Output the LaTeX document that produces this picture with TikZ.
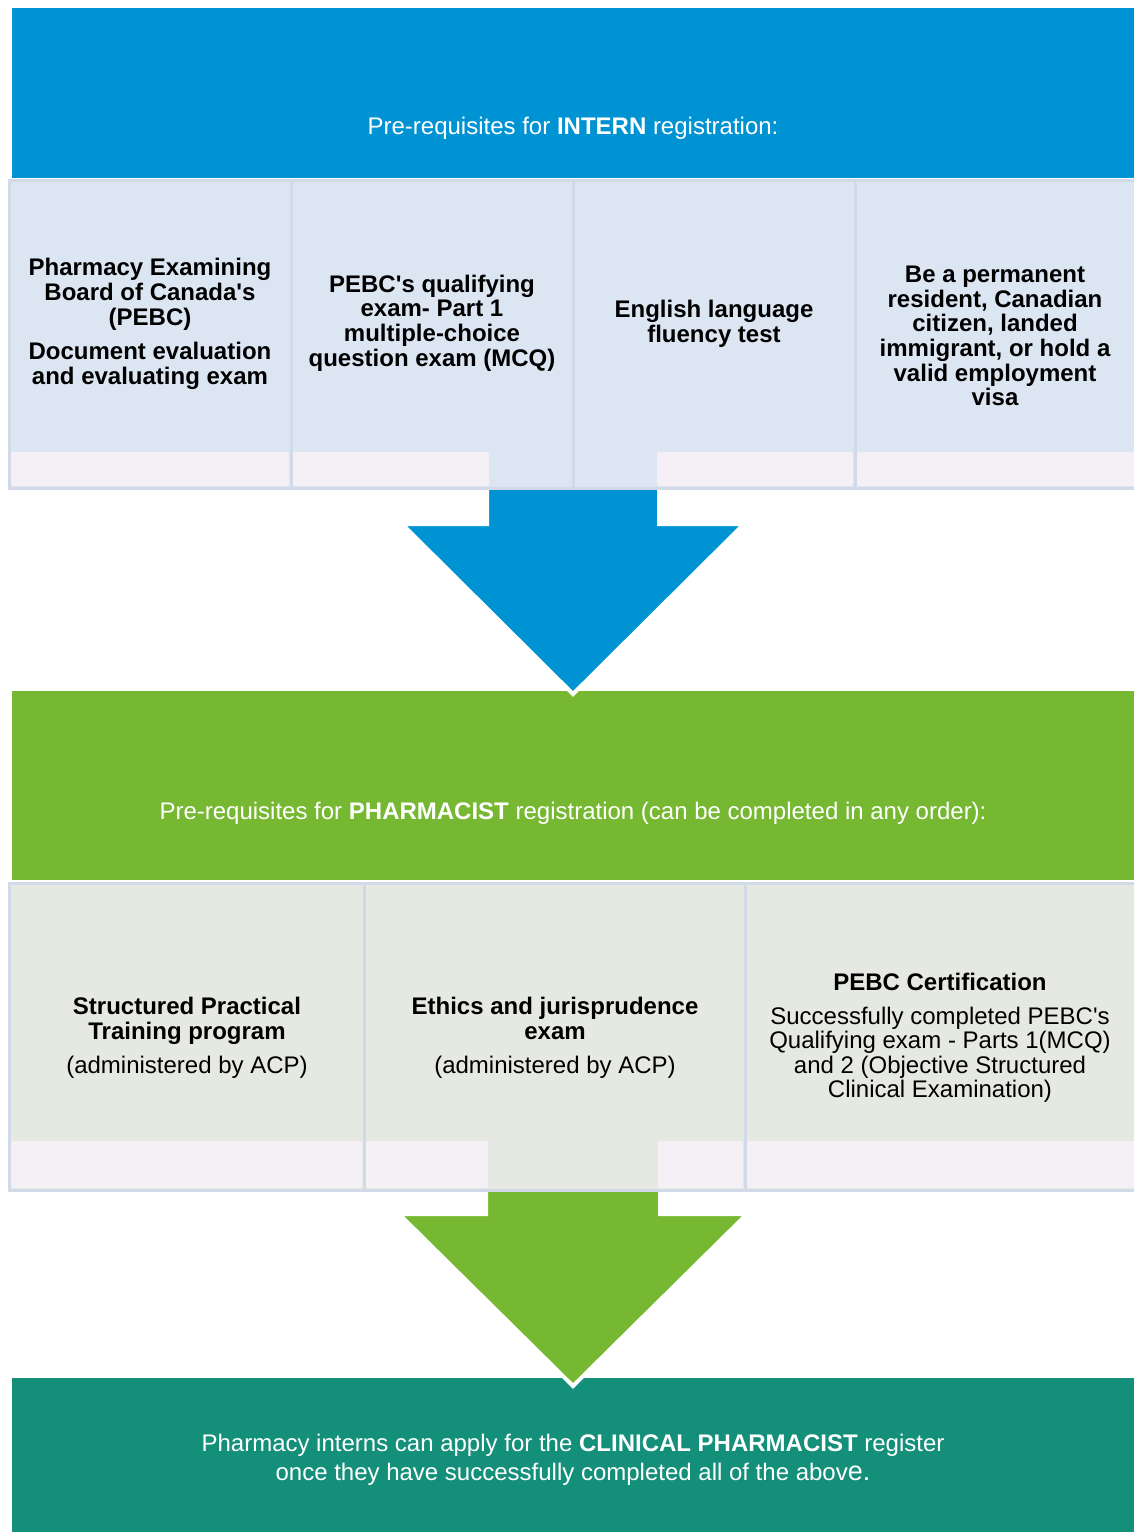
\documentclass[tikz,border=0pt]{standalone}
\usepackage{fontspec}
\setmainfont{Liberation Sans}
\definecolor{bluebar}{RGB}{0,147,211}
\definecolor{greenbar}{RGB}{118,184,49}
\definecolor{tealbar}{RGB}{19,143,122}
\definecolor{bluecell}{RGB}{220,230,242}
\definecolor{greycell}{RGB}{230,233,226}
\definecolor{cellline}{RGB}{210,218,234}
\definecolor{stripfill}{RGB}{244,240,246}
\begin{document}
\begin{tikzpicture}[x=1pt,y=-1pt,
  banner/.style={draw=none},
  blockarrow/.style={draw=white,line width=4pt,line join=miter},
  cellbox/.style={draw=cellline,line width=3pt},
  strip/.style={fill=stripfill,draw=none,rounded corners=2pt},
  celltext/.style={align=center,font=\fontsize{24}{24.6}\selectfont\bfseries,inner sep=0pt},
  bartext/.style={anchor=base,text=white,font=\fontsize{24}{29}\selectfont,inner sep=0pt}]
\useasboundingbox (0,0) rectangle (1134,1532);

% coloured bands
\fill[banner,bluebar] (12,8) rectangle (1134,178);
\fill[banner,greenbar] (12,691) rectangle (1134,880);
\fill[banner,tealbar] (12,1378) rectangle (1134,1532);

% block arrows between the bands
\filldraw[blockarrow,fill=bluebar] (487,460) -- (659,460) -- (659,524) -- (744,524)
  -- (573,694) -- (402,524) -- (487,524) -- cycle;
\filldraw[blockarrow,fill=greenbar] (486,1150) -- (660,1150) -- (660,1214) -- (747,1214)
  -- (573,1386) -- (399,1214) -- (486,1214) -- cycle;

% intern pre-requisite cells
\filldraw[cellbox,fill=bluecell] (9,180) rectangle (291,488);
\filldraw[cellbox,fill=bluecell] (291,180) rectangle (573,488);
\filldraw[cellbox,fill=bluecell] (573,180) rectangle (855,488);
\filldraw[cellbox,fill=bluecell] (855,180) rectangle (1140,488);
\fill[strip] (11,452) rectangle (289,486);
\fill[strip] (293,452) rectangle (489,486);
\fill[strip] (657,452) rectangle (853,486);
\fill[strip] (857,452) rectangle (1140,486);

% pharmacist pre-requisite cells
\filldraw[cellbox,fill=greycell] (9,883) rectangle (364,1190);
\filldraw[cellbox,fill=greycell] (364,883) rectangle (745,1190);
\filldraw[cellbox,fill=greycell] (745,883) rectangle (1140,1190);
\fill[strip] (11,1141) rectangle (362,1188);
\fill[strip] (366,1141) rectangle (488,1188);
\fill[strip] (658,1141) rectangle (743,1188);
\fill[strip] (747,1141) rectangle (1140,1188);

% band captions
\node[bartext] (introtitle) at (573,134)
  {Pre-requisites for \textbf{INTERN} registration:};
\node[bartext] (pharmtitle) at (573,819)
  {Pre-requisites for \textbf{PHARMACIST} registration (can be completed in any order):};
\node[bartext] (clintitle) at (573,1451)
  {Pharmacy interns can apply for the \textbf{CLINICAL PHARMACIST} register};
\node[bartext] (clinsub) at (573,1480)
  {once they have successfully completed all of the abov{\fontsize{27}{29}\selectfont e.}};

% cell texts, intern row
\node[celltext] (pebc) at (150,324)
  {Pharmacy Examining\\Board of Canada\textquotesingle s\\(PEBC)\\[10pt]Document evaluation\\and evaluating exam};
\node[celltext] (mcq) at (432,323)
  {PEBC\textquotesingle s qualifying\\exam- Part 1\\multiple-choice\\question exam (MCQ)};
\node[celltext] (english) at (714,324)
  {English language\\fluency test};
\node[celltext] (status) at (995,336)
  {Be a permanent\\resident, Canadian\\citizen, landed\\immigrant, or hold a\\valid employment\\visa};

% cell texts, pharmacist row
\node[celltext] (training) at (187,1038)
  {Structured Practical\\Training program\\[10pt]{\mdseries (administered by ACP)}};
\node[celltext] (ethics) at (555,1038)
  {Ethics and jurisprudence\\exam\\[10pt]{\mdseries (administered by ACP)}};
\node[celltext] (cert) at (940,1038)
  {PEBC Certification\\[9pt]{\mdseries Successfully completed PEBC\textquotesingle s}\\{\mdseries Qualifying exam - Parts 1(MCQ)}\\{\mdseries and 2 (Objective Structured}\\{\mdseries Clinical Examination)}};
\end{tikzpicture}
\end{document}
